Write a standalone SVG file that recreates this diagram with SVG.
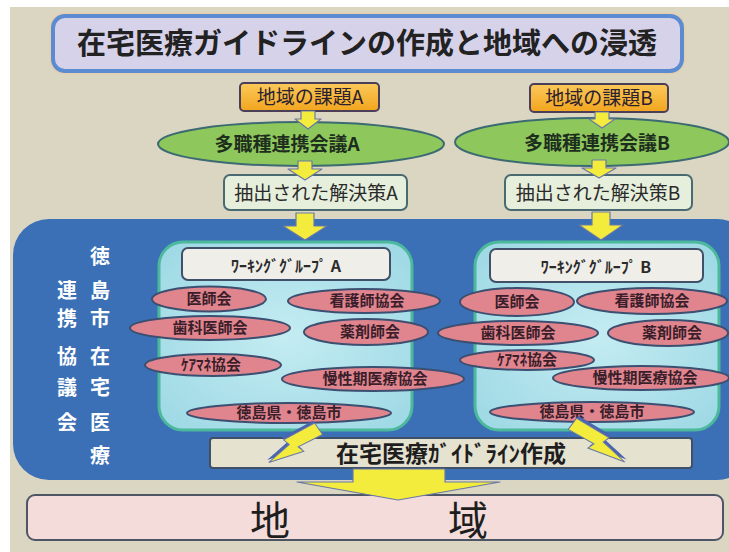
<svg xmlns="http://www.w3.org/2000/svg" width="729" height="552" viewBox="0 0 729 552">
<style>
.jp{font-family:"Noto Sans CJK JP","Noto Sans CJK SC",sans-serif}
.b{font-weight:700}
.pink{fill:#e0848e;stroke:#3c4f70;stroke-width:2}
.pt{font-family:"Noto Sans CJK JP",sans-serif;font-weight:700;font-size:15px;fill:#3a1e2a;text-anchor:middle}
.arr{fill:#f4ec3c;stroke:#6878a8;stroke-width:1.2;stroke-linejoin:round}
.vt{font-family:"Noto Sans CJK JP",sans-serif;font-weight:700;font-size:20px;fill:#ffffff;text-anchor:middle}
</style>
<defs>
<linearGradient id="og" x1="0" y1="0" x2="0" y2="1"><stop offset="0" stop-color="#fbc95a"/><stop offset="1" stop-color="#f2a51e"/></linearGradient>
<radialGradient id="cg" cx="0.5" cy="0.5" r="0.7"><stop offset="0" stop-color="#c4ecf2"/><stop offset="1" stop-color="#9cd8e4"/></radialGradient>
<path id="bolt" d="M-6,0 L8,0 L4,27 L11,25 L0,60 L-3,33 L-10,35 Z"/>
</defs>
<rect x="0" y="0" width="729" height="552" fill="#ffffff"/>
<rect x="10" y="7" width="719" height="545" fill="#dad6c2"/>

<g id="title">
<rect x="53" y="16" width="629" height="55" rx="12" fill="#d6d2ea" stroke="#f0c8a0" stroke-width="7" stroke-opacity="0.5"/>
<rect x="53" y="16" width="629" height="55" rx="12" fill="#d6d2ea" stroke="#5b8cd2" stroke-width="4"/>
<text x="367" y="54" class="jp b" font-size="29" fill="#222222" text-anchor="middle">在宅医療ガイドラインの作成と地域への浸透</text>
</g>

<g id="issueA">
<rect x="240" y="83" width="139" height="28" rx="4" fill="url(#og)" stroke="#4a3e58" stroke-width="2"/>
<text x="310" y="104" class="jp" font-size="19" fill="#2a2030" text-anchor="middle">地域の課題A</text>
</g>
<g id="issueB">
<rect x="530" y="84" width="138" height="28" rx="4" fill="url(#og)" stroke="#4a3e58" stroke-width="2"/>
<text x="599" y="105" class="jp" font-size="19" fill="#2a2030" text-anchor="middle">地域の課題B</text>
</g>

<g id="meetingA">
<ellipse cx="301" cy="144" rx="143" ry="22" fill="#8ec85c" stroke="#3c6a72" stroke-width="2"/>
<text x="287" y="151" class="jp b" font-size="19" fill="#1e2e1e" text-anchor="middle">多職種連携会議A</text>
</g>
<g id="meetingB">
<ellipse cx="592" cy="142" rx="137" ry="24" fill="#8ec85c" stroke="#3c6a72" stroke-width="2"/>
<text x="597" y="150" class="jp b" font-size="19" fill="#1e2e1e" text-anchor="middle">多職種連携会議B</text>
</g>

<g id="solutionA">
<rect x="224" y="175" width="183" height="35" rx="6" fill="#e6efdc" stroke="#4a6a72" stroke-width="2"/>
<text x="316" y="200" class="jp" font-size="19" fill="#2a2a2a" text-anchor="middle">抽出された解決策A</text>
</g>
<g id="solutionB">
<rect x="505" y="175" width="187" height="35" rx="6" fill="#e6efdc" stroke="#4a6a72" stroke-width="2"/>
<text x="598" y="200" class="jp" font-size="19" fill="#2a2a2a" text-anchor="middle">抽出された解決策B</text>
</g>

<g id="council">
<rect x="13" y="219" width="740" height="261" rx="36" fill="#3b6fb6"/>
<text class="vt"><tspan x="100" y="264">徳</tspan><tspan x="100" y="298">島</tspan><tspan x="100" y="326">市</tspan><tspan x="100" y="364">在</tspan><tspan x="100" y="395">宅</tspan><tspan x="100" y="430">医</tspan><tspan x="100" y="463">療</tspan></text>
<text class="vt"><tspan x="67" y="298">連</tspan><tspan x="67" y="326">携</tspan><tspan x="67" y="364">協</tspan><tspan x="67" y="395">議</tspan><tspan x="67" y="430">会</tspan></text>
</g>

<g id="groupA">
<rect x="159" y="242" width="253" height="188" rx="24" fill="url(#cg)" stroke="#4cb89c" stroke-width="3"/>
<rect x="182" y="248" width="208" height="32" rx="6" fill="#f0eee8" stroke="#405068" stroke-width="2"/>
<text x="286" y="272" class="jp b" font-size="16" fill="#2a2a2a" text-anchor="middle">ﾜｰｷﾝｸﾞｸﾞﾙｰﾌﾟ A</text>
</g>
<g id="groupB">
<rect x="475" y="242" width="244" height="188" rx="24" fill="url(#cg)" stroke="#4cb89c" stroke-width="3"/>
<rect x="490" y="249" width="213" height="33" rx="6" fill="#f0eee8" stroke="#405068" stroke-width="2"/>
<text x="596" y="273" class="jp b" font-size="16" fill="#2a2a2a" text-anchor="middle">ﾜｰｷﾝｸﾞｸﾞﾙｰﾌﾟ B</text>
</g>

<g id="memberA-doctors"><ellipse class="pink" cx="209" cy="299" rx="57" ry="12.5"/><text class="pt" x="209" y="304">医師会</text></g>
<g id="memberA-nurses"><ellipse class="pink" cx="364" cy="301" rx="76" ry="12"/><text class="pt" x="367" y="306">看護師協会</text></g>
<g id="memberA-dentists"><ellipse class="pink" cx="210" cy="328" rx="80" ry="12"/><text class="pt" x="210" y="333">歯科医師会</text></g>
<g id="memberA-pharm"><ellipse class="pink" cx="366" cy="332" rx="62" ry="13"/><text class="pt" x="370" y="337">薬剤師会</text></g>
<g id="memberA-care"><ellipse class="pink" cx="213" cy="365" rx="68" ry="11"/><text class="pt" x="211" y="370">ｹｱﾏﾈ協会</text></g>
<g id="memberA-chronic"><ellipse class="pink" cx="373" cy="379" rx="91" ry="12"/><text class="pt" x="375" y="384">慢性期医療協会</text></g>
<g id="memberA-pref"><ellipse class="pink" cx="289" cy="413" rx="102" ry="10"/><text class="pt" x="289" y="418">徳島県・徳島市</text></g>

<g id="memberB-doctors"><ellipse class="pink" cx="517" cy="302" rx="57" ry="14"/><text class="pt" x="517" y="307">医師会</text></g>
<g id="memberB-nurses"><ellipse class="pink" cx="652" cy="301" rx="75" ry="13"/><text class="pt" x="652" y="306">看護師協会</text></g>
<g id="memberB-dentists"><ellipse class="pink" cx="518" cy="333" rx="80" ry="12"/><text class="pt" x="518" y="338">歯科医師会</text></g>
<g id="memberB-pharm"><ellipse class="pink" cx="668" cy="333" rx="60" ry="13"/><text class="pt" x="672" y="338">薬剤師会</text></g>
<g id="memberB-care"><ellipse class="pink" cx="527" cy="360" rx="67" ry="10"/><text class="pt" x="527" y="365">ｹｱﾏﾈ協会</text></g>
<g id="memberB-chronic"><ellipse class="pink" cx="641" cy="378" rx="88" ry="12"/><text class="pt" x="645" y="383">慢性期医療協会</text></g>
<g id="memberB-pref"><ellipse class="pink" cx="592" cy="412" rx="102" ry="10"/><text class="pt" x="592" y="417">徳島県・徳島市</text></g>

<g id="guideline">
<rect x="210" y="438" width="482" height="30" rx="3" fill="#e6e2d0" stroke="#405068" stroke-width="2"/>
<text x="451" y="462" class="jp b" font-size="23" fill="#1e1e1e" text-anchor="middle">在宅医療ｶﾞｲﾄﾞﾗｲﾝ作成</text>
</g>

<g id="region">
<rect x="27" y="495" width="696" height="45" rx="8" fill="#f4dcda" stroke="#4e5666" stroke-width="2"/>
<text x="270" y="535" class="jp" font-size="40" fill="#1e1e1e" text-anchor="middle">地</text>
<text x="468" y="535" class="jp" font-size="40" fill="#1e1e1e" text-anchor="middle">域</text>
</g>

<g id="connectors">
<polygon class="arr" points="301,111 315,111 315,119 321,119 308,129 295,119 301,119"/>
<polygon class="arr" points="298,161 312,161 312,169 322,169 305,180 288,169 298,169"/>
<polygon class="arr" points="296,213 314,213 314,226 327,226 305,240 283,226 296,226"/>
<polygon class="arr" points="595,112 609,112 609,119 615,119 602,128 589,119 595,119"/>
<polygon class="arr" points="592,160 606,160 606,168 616,168 599,178 582,168 592,168"/>
<polygon class="arr" points="592,212 610,212 610,225 623,225 601,240 579,225 592,225"/>
<g transform="translate(318,428) rotate(55)">
<use href="#bolt" fill="#4a64b0" transform="translate(-3,0)"/>
<use href="#bolt" fill="#f4ec3c" stroke="#6878a8" stroke-width="1"/>
</g>
<g transform="translate(573,423) rotate(-53) scale(-1,1.08)">
<use href="#bolt" fill="#4a64b0" transform="translate(-3,0)"/>
<use href="#bolt" fill="#f4ec3c" stroke="#6878a8" stroke-width="1"/>
</g>
<polygon class="arr" points="353,469 445,469 445,482 500,482 398,500 297,482 353,482"/>
</g>
</svg>
